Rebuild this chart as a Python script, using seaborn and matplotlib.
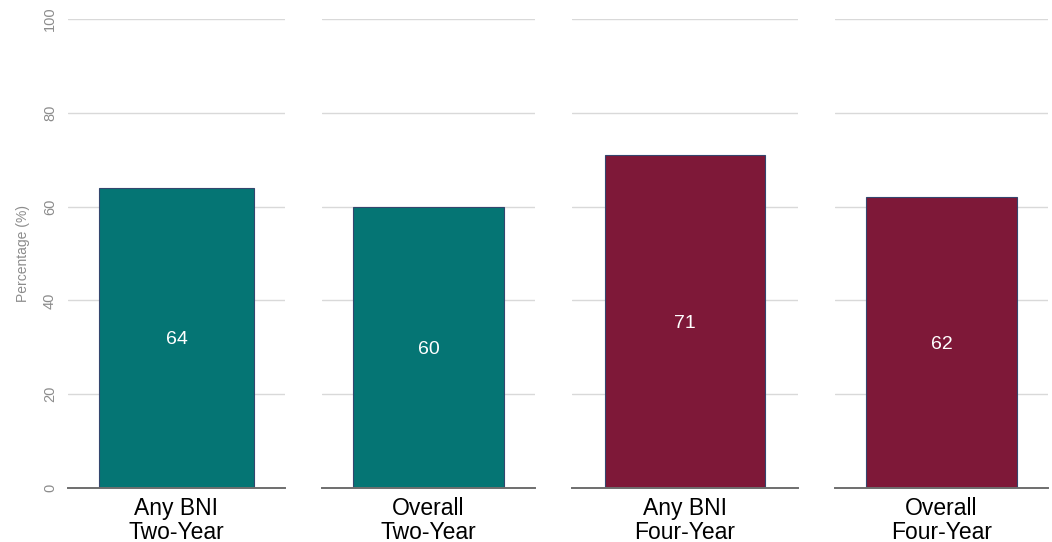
import matplotlib
matplotlib.use("Agg")
import matplotlib.pyplot as plt
import seaborn as sns
import pandas as pd

categories = ["Any BNI\nTwo-Year", "Overall\nTwo-Year", "Any BNI\nFour-Year", "Overall\nFour-Year"]
values = [64, 60, 71, 62]
colors = ["#057574", "#057574", "#7e1838", "#7e1838"]
y_ticks = [0, 20, 40, 60, 80, 100]

sns.set_theme(style="white")
plt.rcParams["font.family"] = ["Liberation Sans", "DejaVu Sans"]

W, H = 1052, 542
fig = plt.figure(figsize=(W / 100, H / 100), dpi=100)

# panel spans in pixels (left, right); plot area between y=19 and y=488
spans = [(68, 285), (322, 535), (572, 798), (835, 1048)]
y_top, y_bot = 19, 488

axes = []
for i, (x0, x1) in enumerate(spans):
    ax = fig.add_axes([x0 / W, 1 - y_bot / H, (x1 - x0) / W, (y_bot - y_top) / H])
    axes.append(ax)
    df = pd.DataFrame({"group": [categories[i]], "pct": [values[i]]})
    sns.barplot(data=df, x="group", y="pct", ax=ax, color=colors[i],
                saturation=1, width=0.71, edgecolor="#34466e", linewidth=0.8)
    ax.set_ylim(0, 100)
    ax.set_xlim(-0.5, 0.5)
    ax.set_yticks(y_ticks)
    ax.grid(axis="y", color="#d9d9d9", linewidth=1)
    ax.set_axisbelow(True)
    for s in ["top", "right", "left"]:
        ax.spines[s].set_visible(False)
    ax.spines["bottom"].set_color("#6e6e6e")
    ax.spines["bottom"].set_linewidth(1.4)
    ax.set_xlabel("")
    ax.tick_params(axis="x", labelsize=16.5, length=0, pad=6.5, labelcolor="black")
    for t in ax.get_xticklabels():
        t.set_linespacing(1.05)
    if i == 0:
        ax.set_ylabel("Percentage (%)", fontsize=10, color="#8c8c8c", labelpad=9)
        ax.tick_params(axis="y", labelsize=10.5, labelcolor="#8c8c8c", length=4,
                       color="#d0d0d0", pad=4)
        for t in ax.get_yticklabels():
            t.set_rotation(90)
            t.set_va("center")
    else:
        ax.set_ylabel("")
        ax.tick_params(axis="y", left=False, labelleft=False)
    for cont in ax.containers:
        for bar, v in zip(cont, [values[i]]):
            ax.text(bar.get_x() + bar.get_width() / 2, v / 2, f"{v}",
                    ha="center", va="center_baseline", color="white", fontsize=14)

fig.savefig("out.png", dpi=100, facecolor="white")
